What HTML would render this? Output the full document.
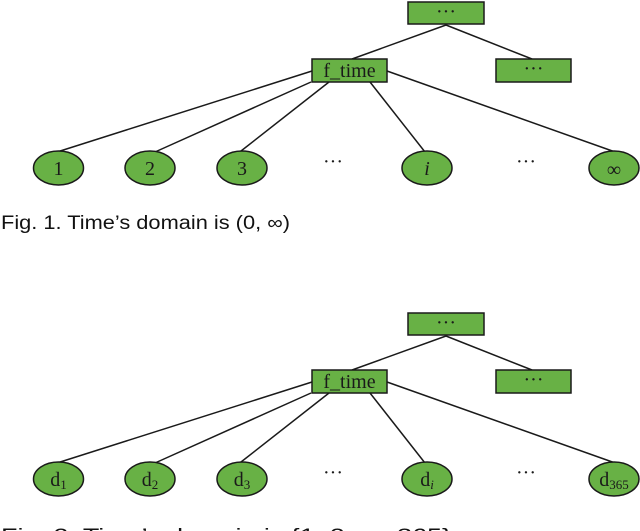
<!DOCTYPE html>
<html><head><meta charset="utf-8"><style>
html,body{margin:0;padding:0;background:#fff;overflow:hidden;}
svg{display:block;}
.n{fill:#68b145;stroke:#1a1a1a;stroke-width:1.5;}
.l{stroke:#1a1a1a;stroke-width:1.5;fill:none;}
.t{font-family:"Liberation Serif",serif;font-size:20px;fill:#1a1a1a;text-anchor:middle;}
.c{font-family:"Liberation Sans",sans-serif;font-size:19px;fill:#111;}
</style></head><body>
<svg width="640" height="531" viewBox="0 0 640 531" xmlns="http://www.w3.org/2000/svg">
<g id="f1">
<line class="l" x1="446" y1="25" x2="352" y2="59"/>
<line class="l" x1="446" y1="25" x2="532" y2="59"/>
<line class="l" x1="312" y1="71" x2="57" y2="152"/>
<line class="l" x1="311" y1="82" x2="155" y2="152"/>
<line class="l" x1="329" y1="82" x2="241" y2="151"/>
<line class="l" x1="370" y1="82" x2="425" y2="152"/>
<line class="l" x1="387" y1="71" x2="618" y2="153"/>
<rect class="n" x="408" y="2" width="76" height="22"/>
<rect class="n" x="312" y="59" width="75" height="23"/>
<rect class="n" x="496" y="59" width="75" height="23"/>
<text class="t" x="446" y="18">···</text>
<text class="t" x="349.5" y="77">f_time</text>
<text class="t" x="533.5" y="75">···</text>
<ellipse class="n" cx="58.5" cy="168" rx="25" ry="17"/>
<ellipse class="n" cx="150" cy="168" rx="25" ry="17"/>
<ellipse class="n" cx="242" cy="168" rx="25" ry="17"/>
<ellipse class="n" cx="427" cy="168" rx="25" ry="17"/>
<ellipse class="n" cx="614" cy="168" rx="25" ry="17"/>
<text class="t" x="333" y="168">···</text>
<text class="t" x="526" y="168">···</text>
</g>
<text class="t" x="58.5" y="175">1</text>
<text class="t" x="150" y="175">2</text>
<text class="t" x="242" y="175">3</text>
<text class="t" x="427" y="175" font-style="italic">i</text>
<text class="t" x="614" y="176" font-size="24">∞</text>
<text class="c" x="1" y="229" textLength="289" lengthAdjust="spacingAndGlyphs">Fig. 1. Time’s domain is (0, ∞)</text>

<use href="#f1" transform="translate(0,311)"/>
<text class="t" x="58.5" y="486">d<tspan font-size="13" dy="3">1</tspan></text>
<text class="t" x="150" y="486">d<tspan font-size="13" dy="3">2</tspan></text>
<text class="t" x="242" y="486">d<tspan font-size="13" dy="3">3</tspan></text>
<text class="t" x="427" y="486">d<tspan font-size="13" dy="3" font-style="italic">i</tspan></text>
<text class="t" x="614" y="486">d<tspan font-size="13" dy="3">365</tspan></text>
<text class="c" x="1" y="542" textLength="450" lengthAdjust="spacingAndGlyphs">Fig. 2. Time’s domain is {1, 2, ..., 365}</text>
</svg>
</body></html>
